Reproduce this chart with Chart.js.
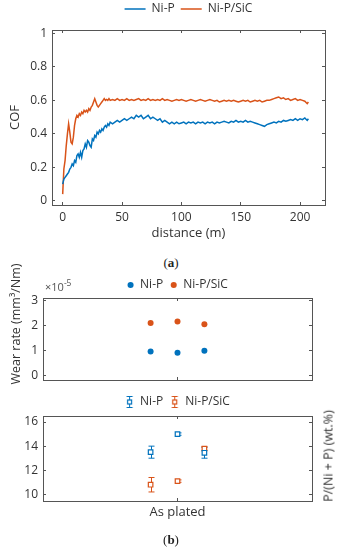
<!DOCTYPE html>
<html><head><meta charset="utf-8">
<script src="https://cdn.jsdelivr.net/npm/chart.js@4/dist/chart.umd.min.js"></script>
<style>
html,body{margin:0;padding:0;width:342px;height:550px;overflow:hidden;background:#fff;}
#wrap{position:relative;width:342px;height:550px;overflow:hidden;background:#fff;}
canvas{position:absolute;left:0;}
.lbl{position:absolute;font-family:'Open Sans',sans-serif;color:#333;white-space:nowrap;}
.rot{transform:translate(-50%,-50%) rotate(-90deg);font-size:12.5px;line-height:15px;}
.cap{position:absolute;left:0;width:342px;text-align:center;font-family:'Liberation Serif',serif;font-size:13px;line-height:16px;color:#222;}
</style></head><body><div id="wrap">
<canvas id="c1" width="377" height="248" style="top:-3px"></canvas>
<canvas id="c2" width="355" height="130" style="top:272px"></canvas>
<canvas id="c3" width="355" height="161" style="top:389px"></canvas>
<div class="cap" style="top:255px">(<b>a</b>)</div>
<div class="cap" style="top:532px">(<b>b</b>)</div>
<div class="lbl" style="left:45px;top:281px;font-size:11px;line-height:12px;color:#555">×10<span style="position:relative;top:-5px;font-size:8.5px">-5</span></div>
<div class="lbl rot" style="left:15px;top:324px">Wear rate (mm³/Nm)</div>
<div class="lbl rot" style="left:328px;top:456px">P/(Ni + P) (wt.%)</div>
</div>
<script>
// ---------- data: (a) COF vs distance ----------
const distance = [0,1,2,3,4,5,6,7,8,9,10,11,12,13,14,15,16,17,18,19,20,21,22,23,24,25,26,27,28,29,30,31,32,33,34,35,36,37,38,39,40,
 42,44,46,48,50,52,54,56,58,60,62,64,66,68,70,72,74,76,78,80,82,84,86,88,90,92,94,96,98,100,
 102,104,106,108,110,112,114,116,118,120,122,124,126,128,130,132,134,136,138,140,142,144,146,148,150,
 152,154,156,158,160,162,164,166,168,170,172,174,176,178,180,182,184,186,188,190,192,194,196,198,200,202,204,206,207];
const cofNiP = [0.10,0.13,0.14,0.15,0.16,0.17,0.19,0.20,0.22,0.21,0.24,0.23,0.27,0.28,0.26,0.29,0.26,0.30,0.31,0.34,0.32,0.36,0.35,0.33,0.32,0.37,0.36,0.39,0.38,0.41,0.40,0.42,0.41,0.43,0.42,0.44,0.45,0.44,0.46,0.45,0.47,
 0.46,0.47,0.48,0.47,0.48,0.49,0.48,0.49,0.50,0.49,
 0.51,0.50,0.51,0.49,0.50,0.51,0.49,0.50,0.49,0.48,
 0.49,0.47,0.48,0.47,0.46,0.47,0.46,0.47,0.46,0.465,
 0.47,0.46,0.47,0.465,0.47,0.46,0.47,0.465,0.47,0.46,
 0.47,0.465,0.47,0.46,0.47,0.465,0.47,0.475,0.47,0.465,
 0.475,0.47,0.48,0.47,0.475,0.47,0.48,0.47,0.475,0.47,
 0.465,0.46,0.455,0.45,0.445,0.455,0.46,0.465,0.47,0.465,
 0.475,0.47,0.48,0.475,0.48,0.485,0.48,0.49,0.48,0.49,
 0.485,0.495,0.48,0.49];
const cofNiPSiC = [0.04,0.19,0.24,0.33,0.40,0.46,0.41,0.35,0.34,0.38,0.45,0.49,0.51,0.50,0.52,0.51,0.53,0.52,0.54,0.53,0.54,0.53,0.55,0.54,0.56,0.57,0.59,0.61,0.59,0.57,0.56,0.57,0.58,0.59,0.60,0.61,0.60,0.605,0.60,0.61,0.60,
 0.605,0.60,0.61,0.60,0.605,0.60,0.61,0.60,0.605,0.60,
 0.605,0.61,0.60,0.605,0.60,0.61,0.60,0.605,0.60,0.605,
 0.60,0.61,0.60,0.605,0.60,0.595,0.60,0.605,0.60,0.605,
 0.60,0.595,0.60,0.605,0.60,0.595,0.60,0.605,0.60,0.595,
 0.60,0.605,0.60,0.595,0.60,0.59,0.595,0.60,0.595,0.60,
 0.595,0.60,0.595,0.59,0.595,0.60,0.595,0.60,0.59,0.595,
 0.60,0.595,0.60,0.59,0.595,0.60,0.60,0.605,0.61,0.615,
 0.62,0.61,0.615,0.605,0.61,0.60,0.605,0.61,0.60,0.605,
 0.60,0.595,0.58,0.59];
const xTicks1 = [0,50,100,150,200];
const xTickLabels1 = ['0','50','100','150','200'];
const yTicks1 = [0,0.2,0.4,0.6,0.8,1];
const yTickLabels1 = ['0','0.2','0.4','0.6','0.8','1'];

// ---------- data: (b) wear rate & P content ----------
const samplePos = [0.9, 1.0, 1.1];
const groupTicks = [1];
const groupLabels = ['As plated'];
const wearNiP = [0.98, 0.93, 1.01];       // ×1e-5 mm³/Nm
const wearNiPSiC = [2.11, 2.17, 2.06];
const yTicks2 = [0,1,2,3];
const yTickLabels2 = ['0','1','2','3'];
const pNiP = [13.5, 15.0, 13.45];
const pNiPErr = [0.5, 0.1, 0.45];
const pNiPSiC = [10.8, 11.1, 13.8];
const pNiPSiCErr = [0.6, 0.1, 0.15];
const yTicks3 = [10,12,14,16];
const yTickLabels3 = ['10','12','14','16'];

const seriesNames = ['Ni-P','Ni-P/SiC'];
const BLUE = '#0072BD', ORANGE = '#D95319';
const TXT = '#333', AX = '#555';
const FONT = {family:"'Open Sans', sans-serif", size:12};
const TITLEFONT = {family:"'Open Sans', sans-serif", size:13};

// ---------- helpers ----------
const errorBarPlugin = {
  id:'errbars',
  beforeDatasetsDraw(chart){
    const {ctx} = chart, xs = chart.scales.x, ys = chart.scales.y;
    chart.data.datasets.forEach(ds=>{
      if(!ds.errors) return;
      ctx.save(); ctx.strokeStyle = ds.borderColor; ctx.lineWidth = 1;
      ctx.beginPath();
      ds.data.forEach((pt,i)=>{
        const x = Math.round(xs.getPixelForValue(pt.x))+0.5;
        const y1 = ys.getPixelForValue(pt.y + ds.errors[i]);
        const y2 = ys.getPixelForValue(pt.y - ds.errors[i]);
        ctx.moveTo(x,y1); ctx.lineTo(x,y2);
        ctx.moveTo(x-3,y1); ctx.lineTo(x+3,y1);
        ctx.moveTo(x-3,y2); ctx.lineTo(x+3,y2);
      });
      ctx.stroke(); ctx.restore();
    });
  }
};
function tickList(arr){ return s => { s.ticks = arr.map(v=>({value:v})); }; }
const GRID = {display:true, drawOnChartArea:false, drawTicks:true, tickLength:-3, color:AX, lineWidth:1};
const BORDER = {display:true, color:AX, width:1};
// mirror axis (top / right) : box edge with inward ticks, no labels
function mirror(pos, size, min, max, ticks){
  return {type:'linear', position:pos, display:true, min, max, afterBuildTicks:tickList(ticks),
    grid:GRID, border:BORDER, ticks:{display:false},
    afterFit: s=>{ if(pos==='top'||pos==='bottom') s.height=size; else s.width=size; }};
}
const common = {responsive:false, animation:false, devicePixelRatio:1};

// ---------- chart (a) ----------
const X1 = [-9, 221], Y1 = [-0.025, 1.02];
new Chart(document.getElementById('c1'), {
  type:'line',
  data:{datasets:[
    {label:seriesNames[0], data:distance.map((d,i)=>({x:d,y:cofNiP[i]})), borderColor:BLUE, backgroundColor:BLUE, borderWidth:1.5, pointRadius:0, tension:0},
    {label:seriesNames[1], data:distance.map((d,i)=>({x:d,y:cofNiPSiC[i]})), borderColor:ORANGE, backgroundColor:ORANGE, borderWidth:1.5, pointRadius:0, tension:0}
  ]},
  options:{...common,
    layout:{padding:0},
    plugins:{tooltip:{enabled:false},
      legend:{position:'top', labels:{usePointStyle:true, pointStyle:'line', pointStyleWidth:21, boxHeight:12, padding:6, color:TXT, font:FONT}}},
    scales:{
      x:{type:'linear', position:'bottom', min:X1[0], max:X1[1], afterBuildTicks:tickList(xTicks1),
        grid:GRID, border:BORDER,
        ticks:{padding:8, color:TXT, font:FONT, maxRotation:0, callback:(v,i)=>xTickLabels1[i]},
        title:{display:true, text:'distance (m)', color:TXT, font:TITLEFONT, padding:{top:0,bottom:4}},
        afterFit:s=>{s.height=40;}},
      y:{type:'linear', position:'left', min:Y1[0], max:Y1[1], afterBuildTicks:tickList(yTicks1),
        grid:GRID, border:BORDER,
        ticks:{padding:8, color:TXT, font:FONT, callback:(v,i)=>yTickLabels1[i]},
        title:{display:true, text:'COF', color:TXT, font:TITLEFONT, padding:{top:7,bottom:0}},
        afterFit:s=>{s.width=52;}},
      yR:mirror('right',52,Y1[0],Y1[1],yTicks1),
      xT:mirror('top',5,X1[0],X1[1],xTicks1)
    }}
});

// ---------- chart (b) upper: wear rate ----------
const X2 = [0.5, 1.5], Y2 = [-0.16, 3.11];
new Chart(document.getElementById('c2'), {
  type:'scatter',
  data:{datasets:[
    {label:seriesNames[0], data:samplePos.map((x,i)=>({x, y:wearNiP[i]})), backgroundColor:BLUE, borderColor:BLUE, pointRadius:3, pointBorderWidth:0, pointStyle:'circle'},
    {label:seriesNames[1], data:samplePos.map((x,i)=>({x, y:wearNiPSiC[i]})), backgroundColor:ORANGE, borderColor:ORANGE, pointRadius:3, pointBorderWidth:0, pointStyle:'circle'}
  ]},
  options:{...common,
    layout:{padding:0},
    plugins:{tooltip:{enabled:false},
      legend:{position:'top', maxHeight:26, labels:{usePointStyle:true, boxWidth:7, boxHeight:4.3, padding:7, color:TXT, font:FONT}}},
    scales:{
      x:{type:'linear', position:'bottom', min:X2[0], max:X2[1], afterBuildTicks:tickList(groupTicks),
        grid:GRID, border:BORDER, ticks:{display:false},
        afterFit:s=>{s.height=22;}},
      y:{type:'linear', position:'left', min:Y2[0], max:Y2[1], afterBuildTicks:tickList(yTicks2),
        grid:GRID, border:BORDER,
        ticks:{padding:8, color:TXT, font:FONT, callback:(v,i)=>yTickLabels2[i]},
        afterFit:s=>{s.width=43;}},
      yR:mirror('right',43,Y2[0],Y2[1],yTicks2),
      xT:mirror('top',0,X2[0],X2[1],groupTicks)
    }}
});

// ---------- chart (b) lower: P content ----------
function errIcon(color){
  const c = document.createElement('canvas'); c.width = 9; c.height = 14;
  const g = c.getContext('2d');
  g.strokeStyle = color; g.lineWidth = 1;
  g.beginPath();
  g.moveTo(4.5,1); g.lineTo(4.5,13);
  g.moveTo(1.5,1.5); g.lineTo(7.5,1.5);
  g.moveTo(1.5,12.5); g.lineTo(7.5,12.5);
  g.stroke();
  g.fillStyle = '#fff'; g.fillRect(2.5,5,4,4);
  g.lineWidth = 1.2; g.strokeRect(2.5,5,4,4);
  return c;
}
const icons = [errIcon(BLUE), errIcon(ORANGE)];
const X3 = [0.5, 1.5], Y3 = [9.45, 16.5];
new Chart(document.getElementById('c3'), {
  type:'scatter',
  data:{datasets:[
    {label:seriesNames[0], data:samplePos.map((x,i)=>({x, y:pNiP[i]})), errors:pNiPErr, backgroundColor:'#fff', borderColor:BLUE, pointRadius:3.2, pointBorderWidth:1.2, pointStyle:'rect'},
    {label:seriesNames[1], data:samplePos.map((x,i)=>({x, y:pNiPSiC[i]})), errors:pNiPSiCErr, backgroundColor:'#fff', borderColor:ORANGE, pointRadius:3.2, pointBorderWidth:1.2, pointStyle:'rect'}
  ]},
  options:{...common,
    layout:{padding:0},
    plugins:{tooltip:{enabled:false},
      legend:{position:'top', maxHeight:27, labels:{usePointStyle:true, boxWidth:9, boxHeight:12, padding:7, color:TXT, font:FONT,
        generateLabels(chart){
          const items = Chart.defaults.plugins.legend.labels.generateLabels(chart);
          items.forEach((it,i)=>{ it.pointStyle = icons[i]; });
          return items;
        }}}},
    scales:{
      x:{type:'linear', position:'bottom', min:X3[0], max:X3[1], afterBuildTicks:tickList(groupTicks),
        grid:GRID, border:BORDER,
        ticks:{padding:6, color:TXT, font:TITLEFONT, maxRotation:0, callback:(v,i)=>groupLabels[i]},
        afterFit:s=>{s.height=49;}},
      y:{type:'linear', position:'left', min:Y3[0], max:Y3[1], afterBuildTicks:tickList(yTicks3),
        grid:GRID, border:BORDER,
        ticks:{padding:8, color:TXT, font:FONT, callback:(v,i)=>yTickLabels3[i]},
        afterFit:s=>{s.width=43;}},
      yR:mirror('right',43,Y3[0],Y3[1],yTicks3),
      xT:mirror('top',0,X3[0],X3[1],groupTicks)
    }},
  plugins:[errorBarPlugin]
});
</script>
</body></html>
